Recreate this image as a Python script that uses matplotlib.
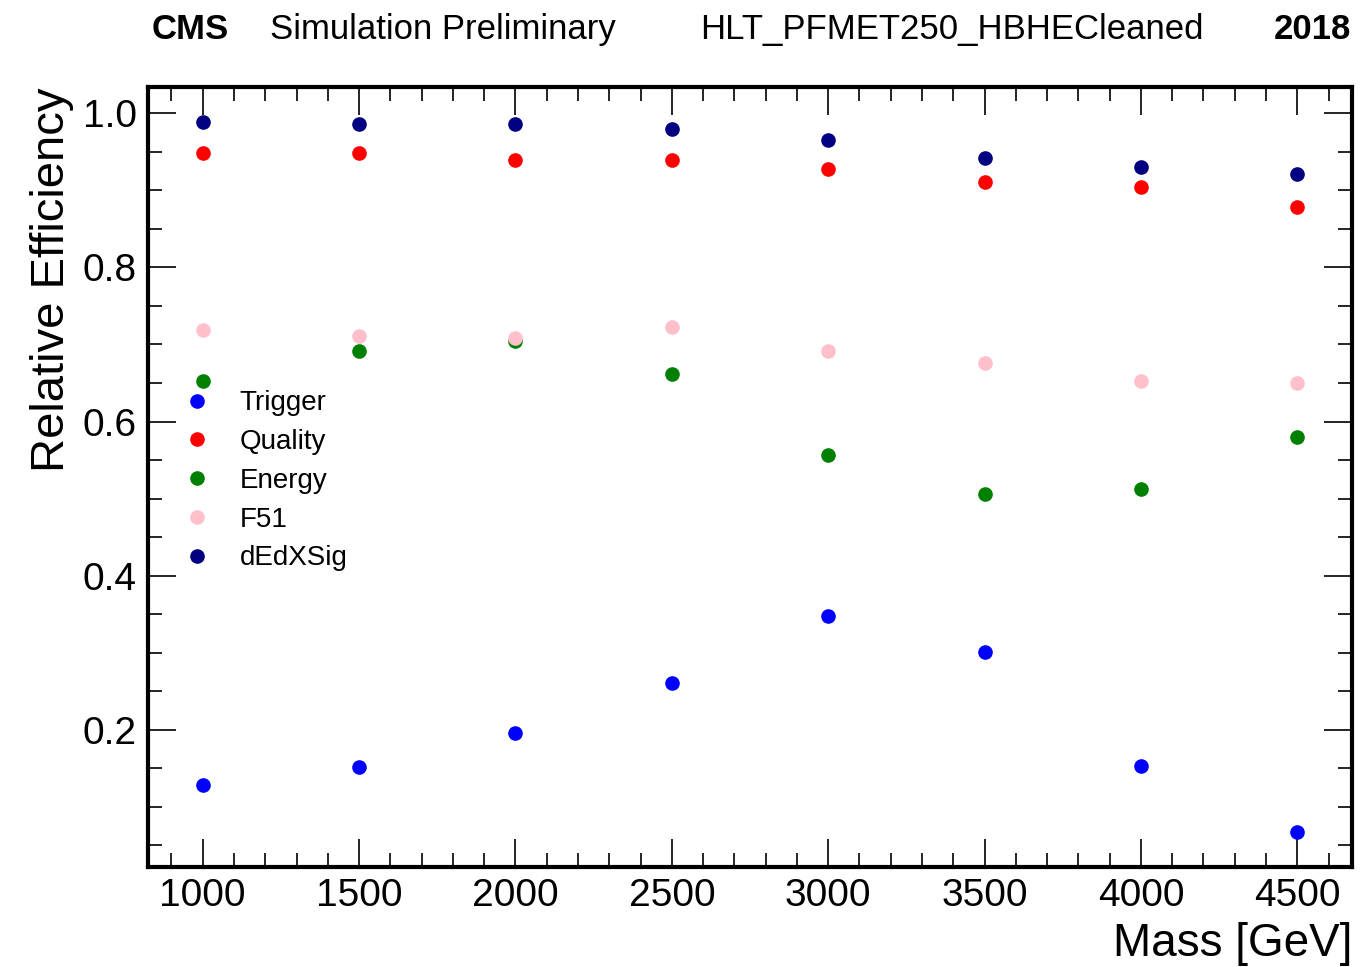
"""Relative efficiency of each selection step versus signal mass."""

import matplotlib

matplotlib.use("Agg")
import matplotlib.pyplot as plt
from matplotlib.ticker import MultipleLocator

plt.rcParams["font.family"] = ["Liberation Sans", "DejaVu Sans"]

masses = [1000, 1500, 2000, 2500, 3000, 3500, 4000, 4500]
trigger = [0.129, 0.152, 0.196, 0.261, 0.348, 0.301, 0.153, 0.068]
quality = [0.948, 0.948, 0.939, 0.939, 0.927, 0.911, 0.904, 0.878]
energy = [0.653, 0.691, 0.704, 0.662, 0.557, 0.506, 0.512, 0.580]
f51 = [0.719, 0.711, 0.708, 0.723, 0.691, 0.676, 0.653, 0.650]
dedx_sig = [0.988, 0.986, 0.986, 0.979, 0.965, 0.942, 0.930, 0.921]

series = [
    ("Trigger", trigger, "blue"),
    ("Quality", quality, "red"),
    ("Energy", energy, "green"),
    ("F51", f51, "pink"),
    ("dEdXSig", dedx_sig, "navy"),
]

fig = plt.figure(figsize=(13.65, 9.67), dpi=100)
ax = fig.add_axes([0.1084, 0.1034, 0.8821, 0.8066])

for label, values, color in series:
    ax.plot(masses, values, "o", color=color, markersize=9.5, label=label)

ax.xaxis.set_major_locator(MultipleLocator(500))
ax.xaxis.set_minor_locator(MultipleLocator(100))
ax.yaxis.set_major_locator(MultipleLocator(0.2))
ax.yaxis.set_minor_locator(MultipleLocator(0.05))
ax.tick_params(which="both", direction="in", top=True, right=True, width=1.2)
ax.tick_params(which="major", length=20, labelsize=28, pad=8)
ax.tick_params(which="minor", length=10)
for spine in ax.spines.values():
    spine.set_linewidth(3)

ax.set_xlabel("Mass [GeV]", fontsize=33, loc="right", labelpad=6)
ax.set_ylabel("Relative Efficiency", fontsize=34, loc="top", labelpad=6)

ax.legend(loc="center left", bbox_to_anchor=(0.0, 0.495), frameon=False,
          fontsize=20, handlelength=1.2, handletextpad=0.95,
          labelspacing=0.46, borderaxespad=0.75)

fig.text(0.1114, 0.960, "CMS", fontsize=25, fontweight="bold", va="baseline")
fig.text(0.1978, 0.960, "Simulation Preliminary", fontsize=25, va="baseline")
fig.text(0.697, 0.960, "HLT_PFMET250_HBHECleaned", fontsize=25,
         va="baseline", ha="center")
fig.text(0.990, 0.960, "2018", fontsize=25, fontweight="bold",
         va="baseline", ha="right")

fig.savefig("out.png", dpi=100)
